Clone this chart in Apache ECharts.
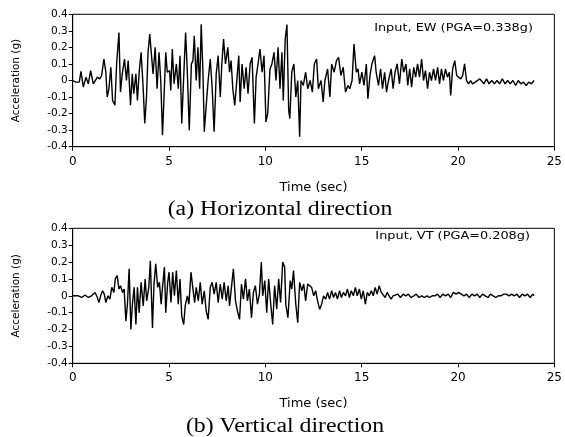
<!DOCTYPE html>
<html>
<head>
<meta charset="utf-8">
<script src="https://cdn.jsdelivr.net/npm/echarts@6/dist/echarts.min.js"></script>
<style>
html,body{margin:0;padding:0;background:#fff;}
#c{width:565px;height:437px;}
</style>
</head>
<body>
<div id="c"></div>
<script>
// ---- Data ----
const xTicks = [0, 5, 10, 15, 20, 25];
const yTicks = [-0.4, -0.3, -0.2, -0.1, 0, 0.1, 0.2, 0.3, 0.4];

// (a) Horizontal direction, EW
const hTime = [0,0.17,0.34,0.43,0.55,0.69,0.81,0.93,1.07,1.16,1.28,1.41,1.5,1.62,1.72,1.79,1.88,1.98,2.07,2.19,2.28,2.4,2.48,2.57,2.69,2.79,2.88,3.0,3.09,3.17,3.28,3.36,3.45,3.55,3.66,3.74,3.83,3.91,4.0,4.09,4.17,4.28,4.38,4.48,4.57,4.66,4.74,4.83,4.91,5.03,5.09,5.17,5.26,5.38,5.48,5.57,5.66,5.76,5.86,5.95,6.05,6.16,6.24,6.31,6.41,6.5,6.59,6.67,6.76,6.83,6.93,7.03,7.14,7.24,7.34,7.45,7.55,7.66,7.74,7.83,7.93,8.05,8.14,8.22,8.31,8.41,8.52,8.62,8.69,8.79,8.9,9.0,9.1,9.21,9.31,9.43,9.52,9.62,9.72,9.83,9.93,10.03,10.12,10.24,10.34,10.45,10.55,10.66,10.76,10.86,10.93,11.03,11.12,11.21,11.27,11.37,11.48,11.58,11.68,11.78,11.85,11.97,12.09,12.2,12.32,12.44,12.54,12.66,12.75,12.89,13.0,13.09,13.23,13.35,13.44,13.57,13.69,13.8,13.92,14.04,14.16,14.29,14.38,14.5,14.6,14.72,14.81,14.89,15.01,15.12,15.24,15.32,15.43,15.53,15.67,15.75,15.87,15.98,16.08,16.19,16.29,16.39,16.53,16.63,16.73,16.84,16.96,17.08,17.18,17.3,17.39,17.49,17.59,17.7,17.8,17.9,18.0,18.11,18.21,18.31,18.42,18.52,18.62,18.73,18.83,18.94,19.04,19.14,19.24,19.35,19.45,19.55,19.62,19.72,19.83,19.93,20.03,20.14,20.24,20.34,20.44,20.55,20.65,20.75,20.89,20.99,21.13,21.23,21.34,21.48,21.61,21.75,21.89,22.02,22.16,22.3,22.44,22.58,22.71,22.85,22.99,23.12,23.26,23.4,23.54,23.67,23.81,23.95];
const hAcc = [0,-0.01,-0.01,0.055,-0.04,0.02,-0.02,0.06,-0.02,-0.03,0.02,0.01,0.03,0.13,0.05,-0.1,-0.05,0.08,-0.12,-0.15,0.1,0.29,-0.07,0.04,0.13,0,0.12,-0.15,0.04,-0.08,0.04,-0.12,0.05,0.17,-0.05,-0.26,-0.1,0.17,0.28,0.15,0.04,0.2,-0.05,0.17,0,-0.33,-0.1,0.17,0.05,0.06,-0.06,0.19,-0.02,0.1,-0.05,0.15,-0.26,0.02,0.29,0.05,-0.3,0.1,0.12,0.27,0,0.2,-0.05,0.34,0.05,-0.31,-0.15,0,0.13,-0.05,-0.31,0.04,0.15,-0.1,0.1,0.25,0.1,0.2,0.05,0.12,-0.05,-0.15,0,0.15,-0.13,0.1,-0.05,0.08,-0.08,0.1,0.14,-0.26,0.02,0.1,0.19,0.05,0.15,-0.25,-0.2,0.07,0.1,0.17,0,0.2,-0.05,0.17,-0.12,0.25,0.338,-0.18,-0.23,0.05,0.1,-0.1,0,-0.34,0,-0.03,0.05,-0.05,0,-0.07,0.1,0.13,-0.05,0,-0.13,0,0.07,-0.1,0.1,0.05,0.12,0.14,0.03,0.08,-0.07,-0.03,-0.05,0,0.22,0.05,0.07,-0.02,0.05,-0.03,0.1,-0.11,0.03,0.1,0.15,0.05,-0.03,0.07,-0.05,0.05,-0.07,0,0.07,-0.05,0.05,0.1,-0.02,0.13,0.05,0.1,-0.03,0.07,-0.04,0.08,0.02,0.1,0.02,0.13,0,0.06,-0.05,0.05,0,0.07,0,0.08,-0.02,0.07,0,0.07,0.02,0.05,-0.09,0.07,0.12,0.03,0.02,0.01,0.03,0.1,0,-0.02,0,-0.02,-0.01,0,0.01,0,-0.02,0.01,-0.02,0,-0.02,0,-0.02,0.01,-0.02,0,-0.02,0,-0.03,0,-0.02,-0.01,-0.03,-0.01,-0.02,0];

// (b) Vertical direction, VT
const vTime = [0,0.29,0.47,0.64,0.81,0.98,1.16,1.28,1.36,1.45,1.55,1.64,1.72,1.83,1.93,2.03,2.14,2.21,2.31,2.4,2.48,2.59,2.67,2.76,2.84,2.93,3.02,3.1,3.19,3.28,3.36,3.45,3.55,3.66,3.76,3.84,3.95,4.03,4.14,4.22,4.31,4.41,4.5,4.59,4.66,4.76,4.83,4.93,5.0,5.1,5.19,5.28,5.38,5.48,5.57,5.66,5.76,5.84,5.95,6.03,6.14,6.22,6.33,6.41,6.52,6.62,6.72,6.83,6.93,7.03,7.14,7.24,7.34,7.45,7.55,7.66,7.76,7.86,7.97,8.07,8.14,8.24,8.34,8.45,8.55,8.66,8.76,8.86,8.97,9.07,9.17,9.28,9.38,9.48,9.59,9.69,9.79,9.86,9.97,10.07,10.17,10.28,10.38,10.48,10.59,10.69,10.79,10.9,11.0,11.06,11.17,11.29,11.37,11.46,11.58,11.68,11.78,11.89,11.99,12.09,12.2,12.3,12.4,12.51,12.61,12.71,12.82,12.92,13.02,13.13,13.23,13.33,13.44,13.54,13.64,13.74,13.85,13.95,14.05,14.16,14.26,14.36,14.46,14.57,14.67,14.77,14.88,14.98,15.08,15.19,15.29,15.39,15.5,15.6,15.7,15.8,15.91,16.01,16.11,16.22,16.32,16.42,16.53,16.63,16.73,16.87,17.01,17.15,17.28,17.42,17.56,17.7,17.83,17.97,18.11,18.25,18.39,18.52,18.66,18.8,18.93,19.07,19.21,19.35,19.49,19.62,19.76,19.9,20.03,20.17,20.31,20.44,20.58,20.72,20.86,20.99,21.13,21.27,21.41,21.55,21.68,21.82,21.96,22.09,22.23,22.37,22.51,22.65,22.78,22.92,23.06,23.19,23.33,23.47,23.61,23.74,23.88,23.95];
const vAcc = [0,0,-0.01,0.005,-0.01,0,0.02,-0.01,-0.04,0,0.03,0.01,-0.04,0,-0.02,0.05,0.02,0.1,0.12,0.04,0.06,0.02,0.04,-0.15,-0.05,0.16,-0.2,-0.05,0.05,-0.17,0.05,-0.1,0.08,-0.06,0.1,-0.03,0.05,0.208,-0.19,0.07,0.19,0.05,0.08,-0.05,0.05,0.17,-0.1,0.08,0.14,-0.04,0.14,0,0.15,-0.05,0.1,-0.12,-0.17,-0.06,0,-0.05,0.14,0.06,-0.04,0.05,-0.03,0.08,-0.05,0.03,-0.09,-0.14,0.05,0.08,0.01,0.08,-0.04,0.07,-0.02,0.08,-0.03,0.06,-0.06,0.05,0.16,-0.03,-0.09,-0.14,0.07,-0.02,0.1,-0.03,0.04,-0.13,0.02,0.06,-0.05,0.01,0.2,0,0.09,-0.1,0.1,-0.05,-0.17,0.06,-0.08,0.1,-0.04,0.2,0.17,-0.05,-0.13,0.09,0.04,0.15,-0.05,-0.16,0.08,0.03,0.07,-0.03,0.07,0.08,0.05,0,0.03,-0.03,-0.08,-0.05,0,-0.02,0.02,-0.02,0.03,-0.01,0.02,-0.02,0.03,-0.01,0.02,0,0.04,-0.01,0.03,0,0.05,0,0.04,-0.02,0.03,-0.05,0.02,0,0.03,0,0.05,0.01,0.06,0.02,0.03,-0.01,0.02,0,-0.02,0,-0.01,0.01,-0.01,0.01,0,0.01,-0.01,0,0.01,-0.01,0,-0.01,0,-0.01,0,0,0.01,-0.01,0.01,0,0.01,-0.01,0.02,0.01,0.02,0.01,0,0.01,-0.01,0.01,0,0.01,-0.01,0.01,0,-0.01,0.01,0,-0.01,0,0,0.01,0.01,0,0.01,0,0.01,-0.01,0.01,0,0.01,-0.01,0.01,0];

const notes = ['Input, EW (PGA=0.338g)', 'Input, VT (PGA=0.208g)'];
const captions = ['(a) Horizontal direction', '(b) Vertical direction'];

// ---- Chart ----
const zip = (t, a) => t.map((v, i) => [v, a[i]]);
const FONT = 'DejaVu Sans';
const grids = [
  {left: 72.7, right: 7.5, top: 14.3, height: 132.4},
  {left: 72.7, right: 7.5, top: 228.3, height: 135}
];
const mkX = (gi) => ({
  type: 'value', gridIndex: gi, min: 0, max: 25, interval: 5,
  name: 'Time (sec)', nameLocation: 'middle', nameGap: 34,
  nameTextStyle: {fontFamily: FONT, fontSize: 13, color: '#000'},
  axisLine: {show: true, onZero: false, lineStyle: {color: '#000', width: 1}},
  axisTick: {show: true, length: 4, lineStyle: {color: '#000'}},
  axisLabel: {fontFamily: FONT, fontSize: 12, color: '#000', margin: 9},
  splitLine: {show: false}
});
const mkY = (gi) => ({
  type: 'value', gridIndex: gi, min: -0.4, max: 0.4, interval: 0.1,
  name: 'Acceleration (g)', nameLocation: 'middle', nameGap: 51,
  nameTextStyle: {fontFamily: FONT, fontSize: 10.5, color: '#000'},
  axisLine: {show: true, onZero: false, lineStyle: {color: '#000', width: 1}},
  axisTick: {show: true, length: 4, lineStyle: {color: '#000'}},
  axisLabel: {fontFamily: FONT, fontSize: 10.5, color: '#000', margin: 5,
    formatter: v => Math.abs(v) < 1e-9 ? '0' : v.toFixed(1)},
  splitLine: {show: false}
});
const chart = echarts.init(document.getElementById('c'), null, {renderer: 'canvas'});
chart.setOption({
  animation: false,
  backgroundColor: '#fff',
  grid: grids.map(g => Object.assign({show: true, borderColor: '#000', borderWidth: 1, backgroundColor: 'transparent'}, g)),
  xAxis: [mkX(0), mkX(1)],
  yAxis: [mkY(0), mkY(1)],
  series: [
    {type: 'line', xAxisIndex: 0, yAxisIndex: 0, data: zip(hTime, hAcc), showSymbol: false, symbol: 'none',
     lineStyle: {color: '#000', width: 1.4}},
    {type: 'line', xAxisIndex: 1, yAxisIndex: 1, data: zip(vTime, vAcc), showSymbol: false, symbol: 'none',
     lineStyle: {color: '#000', width: 1.4}}
  ],
  graphic: [
    {type: 'text', x: 533, y: 28, scaleX: 1.17, style: {text: notes[0], fontFamily: FONT, fontSize: 11, fill: '#000', align: 'right', verticalAlign: 'middle'}},
    {type: 'text', x: 530, y: 236, scaleX: 1.17, style: {text: notes[1], fontFamily: FONT, fontSize: 11, fill: '#000', align: 'right', verticalAlign: 'middle'}},
    {type: 'text', x: 280, y: 210, scaleX: 1.19, style: {text: captions[0], fontFamily: 'Liberation Serif', fontSize: 20, fill: '#000', align: 'center', verticalAlign: 'middle'}},
    {type: 'text', x: 285, y: 427, scaleX: 1.19, style: {text: captions[1], fontFamily: 'Liberation Serif', fontSize: 20, fill: '#000', align: 'center', verticalAlign: 'middle'}}
  ]
});
</script>
</body>
</html>
